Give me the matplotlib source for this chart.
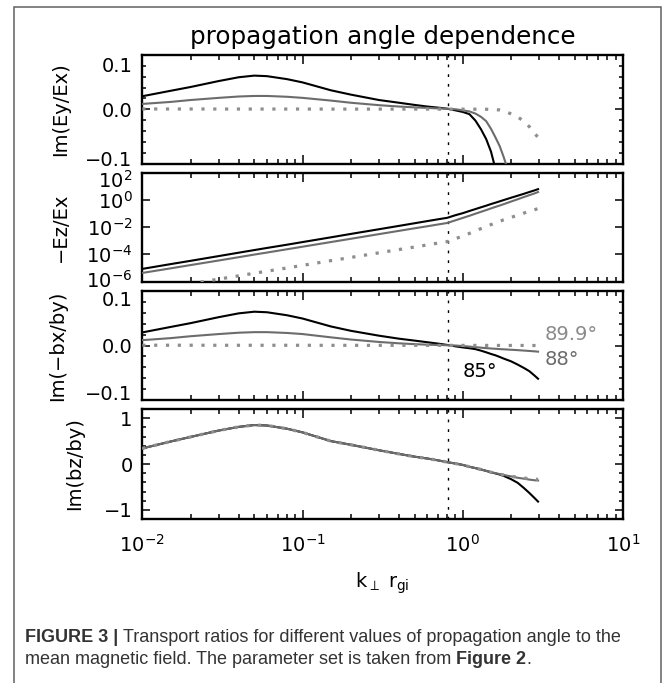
import numpy as np
import matplotlib
matplotlib.use("Agg")
import matplotlib.pyplot as plt
import matplotlib.transforms as mtransforms
from matplotlib.ticker import (FixedLocator, MultipleLocator, LogLocator,
                               NullLocator, FixedFormatter, NullFormatter)
from matplotlib.patches import Rectangle

plt.rcParams['font.family'] = ['DejaVu Sans']
plt.rcParams['mathtext.default'] = 'regular'

nan = np.nan

# ---------------- data ----------------
k_perp = [0.01, 0.015, 0.02, 0.03, 0.04, 0.05, 0.06, 0.08, 0.1, 0.15, 0.2, 0.3,
          0.4, 0.5, 0.6, 0.7, 0.8, 0.9, 1.0, 1.1, 1.2, 1.3, 1.4, 1.5, 1.6, 1.7,
          1.8, 2.0, 2.2, 2.4, 2.6, 2.8, 2.95]

ey_ex_85 = [0.024, 0.034, 0.041, 0.052, 0.059, 0.062, 0.061, 0.0555, 0.0495, 0.035,
            0.027, 0.017, 0.012, 0.008, 0.005, 0.003, 0.001, -0.002, -0.005, -0.009,
            -0.021, -0.037, -0.055, -0.078, -0.11, -0.15, nan, nan, nan, nan, nan,
            nan, nan]
ey_ex_88 = [0.0098, 0.0135, 0.017, 0.021, 0.0235, 0.0245, 0.0245, 0.023, 0.021, 0.016,
            0.012, 0.0075, 0.005, 0.0035, 0.0025, 0.0015, 0.0008, 0.0, -0.002, -0.004,
            -0.008, -0.014, -0.022, -0.036, -0.052, -0.068, -0.088, -0.13, nan, nan,
            nan, nan, nan]
ey_ex_899 = [0.0005, 0.0005, 0.0005, 0.0004, 0.0004, 0.0004, 0.0004, 0.0004, 0.0004,
             0.0003, 0.0003, 0.0003, 0.0003, 0.0003, 0.0002, 0.0002, 0.0002, 0.0002,
             0.0002, 0.0001, 0.0001, 0.0001, 0.0, -0.0003, -0.0007, -0.0013, -0.003,
             -0.0085, -0.014, -0.022, -0.032, -0.044, -0.052]

ez_ex_85 = [8.7e-6, 1.95e-5, 3.4e-5, 7.6e-5, 1.35e-4, 2.1e-4, 3.0e-4, 5.2e-4, 8.1e-4,
            1.8e-3, 3.2e-3, 7.1e-3, 1.25e-2, 1.95e-2, 2.8e-2, 3.8e-2, 4.9e-2, 7.6e-2,
            0.107, 0.155, 0.214, 0.29, 0.38, 0.50, 0.63, 0.79, 0.98, 1.45, 2.04, 2.8,
            3.8, 5.0, 6.2]
ez_ex_88 = [4.4e-6, 9.5e-6, 1.66e-5, 3.6e-5, 6.3e-5, 9.8e-5, 1.38e-4, 2.4e-4, 3.7e-4,
            8.1e-4, 1.41e-3, 3.1e-3, 5.4e-3, 8.3e-3, 1.17e-2, 1.58e-2, 2.04e-2, 3.2e-2,
            4.8e-2, 6.9e-2, 9.8e-2, 0.135, 0.18, 0.24, 0.31, 0.39, 0.49, 0.76, 1.12,
            1.62, 2.24, 3.0, 3.8]
ez_ex_899 = [1.9e-7, 4.1e-7, 7.1e-7, 1.55e-6, 2.7e-6, 4.2e-6, 5.9e-6, 1.02e-5, 1.58e-5,
             3.5e-5, 6.0e-5, 1.32e-4, 2.3e-4, 3.5e-4, 5.0e-4, 6.8e-4, 8.7e-4, 1.45e-3,
             2.2e-3, 3.5e-3, 5.4e-3, 7.9e-3, 1.12e-2, 1.55e-2, 2.1e-2, 2.7e-2, 3.5e-2,
             5.2e-2, 7.6e-2, 0.107, 0.148, 0.19, 0.234]

bx_by_85 = [0.024, 0.034, 0.041, 0.052, 0.059, 0.062, 0.061, 0.0555, 0.0495, 0.035,
            0.027, 0.018, 0.0125, 0.009, 0.006, 0.0035, 0.001, -0.0015, -0.0035, -0.005,
            -0.0067, -0.0095, -0.0125, -0.0155, -0.018, -0.021, -0.024, -0.029, -0.035,
            -0.041, -0.047, -0.055, -0.061]
bx_by_88 = [0.0098, 0.0135, 0.017, 0.021, 0.0235, 0.0245, 0.0245, 0.023, 0.021, 0.015,
            0.011, 0.0065, 0.004, 0.0025, 0.0015, 0.001, 0.0005, 0.0, -0.001, -0.002,
            -0.003, -0.004, -0.0048, -0.0055, -0.006, -0.0066, -0.007, -0.0078, -0.0085,
            -0.0093, -0.010, -0.0107, -0.0113]
bx_by_899 = [0.0005, 0.0005, 0.0005, 0.0004, 0.0004, 0.0004, 0.0004, 0.0004, 0.0004,
             0.0003, 0.0003, 0.0003, 0.0003, 0.0003, 0.0003, 0.0003, 0.0003, 0.0002,
             0.0002, 0.0002, 0.0002, 0.0002, 0.0002, 0.0002, 0.0002, 0.0001, 0.0001,
             0.0001, 0.0001, 0.0001, 0.0, 0.0, -0.0003]

bz_by_85 = [0.34, 0.49, 0.59, 0.73, 0.81, 0.85, 0.84, 0.77, 0.69, 0.50, 0.42, 0.30,
            0.22, 0.16, 0.12, 0.08, 0.04, 0.01, -0.02, -0.06, -0.09, -0.12, -0.15, -0.18,
            -0.205, -0.23, -0.26, -0.33, -0.41, -0.52, -0.63, -0.74, -0.82]
bz_by_88 = [0.34, 0.49, 0.59, 0.73, 0.81, 0.85, 0.84, 0.77, 0.69, 0.50, 0.42, 0.30,
            0.22, 0.16, 0.12, 0.08, 0.04, 0.01, -0.02, -0.06, -0.09, -0.12, -0.15, -0.18,
            -0.20, -0.22, -0.24, -0.27, -0.30, -0.32, -0.34, -0.355, -0.36]
bz_by_899 = [0.34, 0.49, 0.59, 0.73, 0.81, 0.85, 0.84, 0.77, 0.69, 0.50, 0.42, 0.30,
             0.22, 0.16, 0.12, 0.08, 0.04, 0.01, -0.02, -0.06, -0.09, -0.12, -0.15, -0.18,
             -0.20, -0.22, -0.24, -0.265, -0.29, -0.305, -0.32, -0.33, -0.335]

k_marker = 0.81
angle_labels = ["89.9°", "88°", "85°"]
x_tick_vals = [1e-2, 1e-1, 1e0, 1e1]
x_tick_labels = [r"$10^{-2}$", r"$10^{-1}$", r"$10^{0}$", r"$10^{1}$"]
lin_tick_labels = ["\u22120.1", "0.0", "0.1"]
log_tick_vals = [1e-6, 1e-4, 1e-2, 1e0, 1e2]
log_tick_labels = [r"$10^{-6}$", r"$10^{-4}$", r"$10^{-2}$", r"$10^{0}$", r"$10^{2}$"]
bz_tick_labels = ["\u22121", "0", "1"]

# ---------------- layout ----------------
W, H = 670, 683
fig = plt.figure(figsize=(W / 100, H / 100), dpi=100)
L, R = 142.3, 623.0

def add_panel(top, bottom):
    return fig.add_axes([L / W, 1 - bottom / H, (R - L) / W, (bottom - top) / H])

ax1 = add_panel(55.0, 163.5)
ax2 = add_panel(172.7, 281.7)
ax3 = add_panel(291.0, 400.0)
ax4 = add_panel(409.0, 519.0)
axes = [ax1, ax2, ax3, ax4]

C_BLACK = "black"
C_GRAY = "#6c6c6c"
C_DOT = "#8e8e8e"
FS = 14

def draw(ax, y85, y88, y899):
    ax.plot(k_perp, y85, color=C_BLACK, lw=1.5, zorder=3)
    ax.plot(k_perp, y88, color=C_GRAY, lw=1.5, zorder=4)
    ax.plot(k_perp, y899, color=C_DOT, lw=2.3, linestyle=(0, (1, 2.7)),
            dash_capstyle="butt", zorder=5)
    ax.axvline(k_marker, color="black", lw=1.0, linestyle=(0, (2, 5)), zorder=2)

draw(ax1, ey_ex_85, ey_ex_88, ey_ex_899)
draw(ax2, ez_ex_85, ez_ex_88, ez_ex_899)
draw(ax3, bx_by_85, bx_by_88, bx_by_899)
draw(ax4, bz_by_85, bz_by_88, bz_by_899)

for ax in axes:
    ax.set_xscale("log")
    ax.set_xlim(1e-2, 1e1)
    ax.xaxis.set_major_locator(FixedLocator(x_tick_vals))
    ax.xaxis.set_minor_locator(LogLocator(base=10, subs=np.arange(2, 10), numticks=20))
    ax.xaxis.set_minor_formatter(NullFormatter())
    for s in ax.spines.values():
        s.set_linewidth(1.7)
    ax.tick_params(axis="x", which="major", direction="in", length=6.8, width=1.1,
                   top=True, bottom=True, labelsize=FS, pad=11)
    ax.tick_params(axis="x", which="minor", direction="in", length=3.6, width=1.1,
                   top=True, bottom=True)
    ax.tick_params(axis="y", which="major", direction="in", length=5.8, width=1.1,
                   left=True, right=True, labelsize=FS, pad=7)
    ax.tick_params(axis="y", which="minor", direction="in", length=3.2, width=1.1,
                   left=True, right=True)
    if ax is not ax4:
        ax.tick_params(axis="x", labelbottom=False)

ax4.xaxis.set_major_formatter(FixedFormatter(x_tick_labels))

for ax in (ax1, ax3):
    ax.set_ylim(-0.1, 0.1)
    ax.yaxis.set_major_locator(FixedLocator([-0.1, 0.0, 0.1]))
    ax.yaxis.set_major_formatter(FixedFormatter(lin_tick_labels))
    ax.yaxis.set_minor_locator(MultipleLocator(0.02))

ax2.set_yscale("log")
ax2.set_ylim(1e-6, 1e2)
ax2.yaxis.set_major_locator(FixedLocator(log_tick_vals))
ax2.yaxis.set_major_formatter(FixedFormatter(log_tick_labels))
ax2.yaxis.set_minor_locator(NullLocator())

ax4.set_ylim(-1.2, 1.2)
ax4.yaxis.set_major_locator(FixedLocator([-1, 0, 1]))
ax4.yaxis.set_major_formatter(FixedFormatter(bz_tick_labels))
ax4.yaxis.set_minor_locator(MultipleLocator(0.2))

ylabels = ["Im(Ey/Ex)", "\u2212Ez/Ex", "Im(\u2212bx/by)", "Im(bz/by)"]
ylabel_x = [70, 70, 67, 84]
for ax, lab, px in zip(axes, ylabels, ylabel_x):
    ax.set_ylabel(lab, fontsize=FS)
    ax.yaxis.set_label_coords((px - L) / (R - L), 0.5)

ax4.set_xlabel(r"k$_{\perp}$ r$_{gi}$", fontsize=FS, labelpad=10)

# angle labels in panel 3
ax3.text(3.25, 0.021, angle_labels[0], color="#8a8a8a", fontsize=FS, ha="left", va="center")
ax3.text(3.25, -0.0266, angle_labels[1], color="#6c6c6c", fontsize=FS, ha="left", va="center")
ax3.text(1.0, -0.048, angle_labels[2], color="black", fontsize=FS, ha="left", va="center")

fig.text((L + R) / 2 / W, 1 - 37 / H, "propagation angle dependence",
         ha="center", va="center", fontsize=17.7)

# outer frame
fig.add_artist(Rectangle((14 / W, -0.02), (661 - 14) / W, 1 - 7 / H + 0.02,
                         transform=fig.transFigure, fill=False, ec="#606060", lw=1.1))

# caption
cax = fig.add_axes([0, 0, 1, 1])
cax.axis("off")
cap_font = ["Liberation Sans", "DejaVu Sans"]
cap_fs = 13
cap_col = "#333333"
t = cax.text(25 / W, 1 - 638 / H, "FIGURE 3 | ", fontsize=cap_fs, family=cap_font,
             weight="bold", color=cap_col, ha="left", va="center")
cax.annotate("Transport ratios for different values of propagation angle to the",
             xy=(1, 0), xycoords=t, ha="left", va="bottom", fontsize=cap_fs,
             family=cap_font, color=cap_col)
t2 = cax.text(25 / W, 1 - 660 / H, "mean magnetic field. The parameter set is taken from ",
              fontsize=cap_fs, family=cap_font, color=cap_col, ha="left", va="center")
t3 = cax.annotate("Figure 2", xy=(1, 0), xycoords=t2, ha="left", va="bottom",
                  fontsize=cap_fs, family=cap_font, weight="bold", color=cap_col)
cax.annotate(".", xy=(1, 0), xycoords=t3, ha="left", va="bottom",
             fontsize=cap_fs, family=cap_font, color=cap_col)

# IDL-like placement: end tick labels nudged inside the panel
fig.canvas.draw()
label_shifts = {ax1: [5, 0, -10], ax2: [3, 1, 0, 0, -6], ax3: [7, 0, -8]}
for ax, shifts in label_shifts.items():
    for tick, dy in zip(ax.yaxis.get_major_ticks(), shifts):
        tick.label1.set_transform(tick.label1.get_transform() +
                                  mtransforms.ScaledTranslation(0, dy / 100, fig.dpi_scale_trans))

fig.savefig("out.png", dpi=100)
